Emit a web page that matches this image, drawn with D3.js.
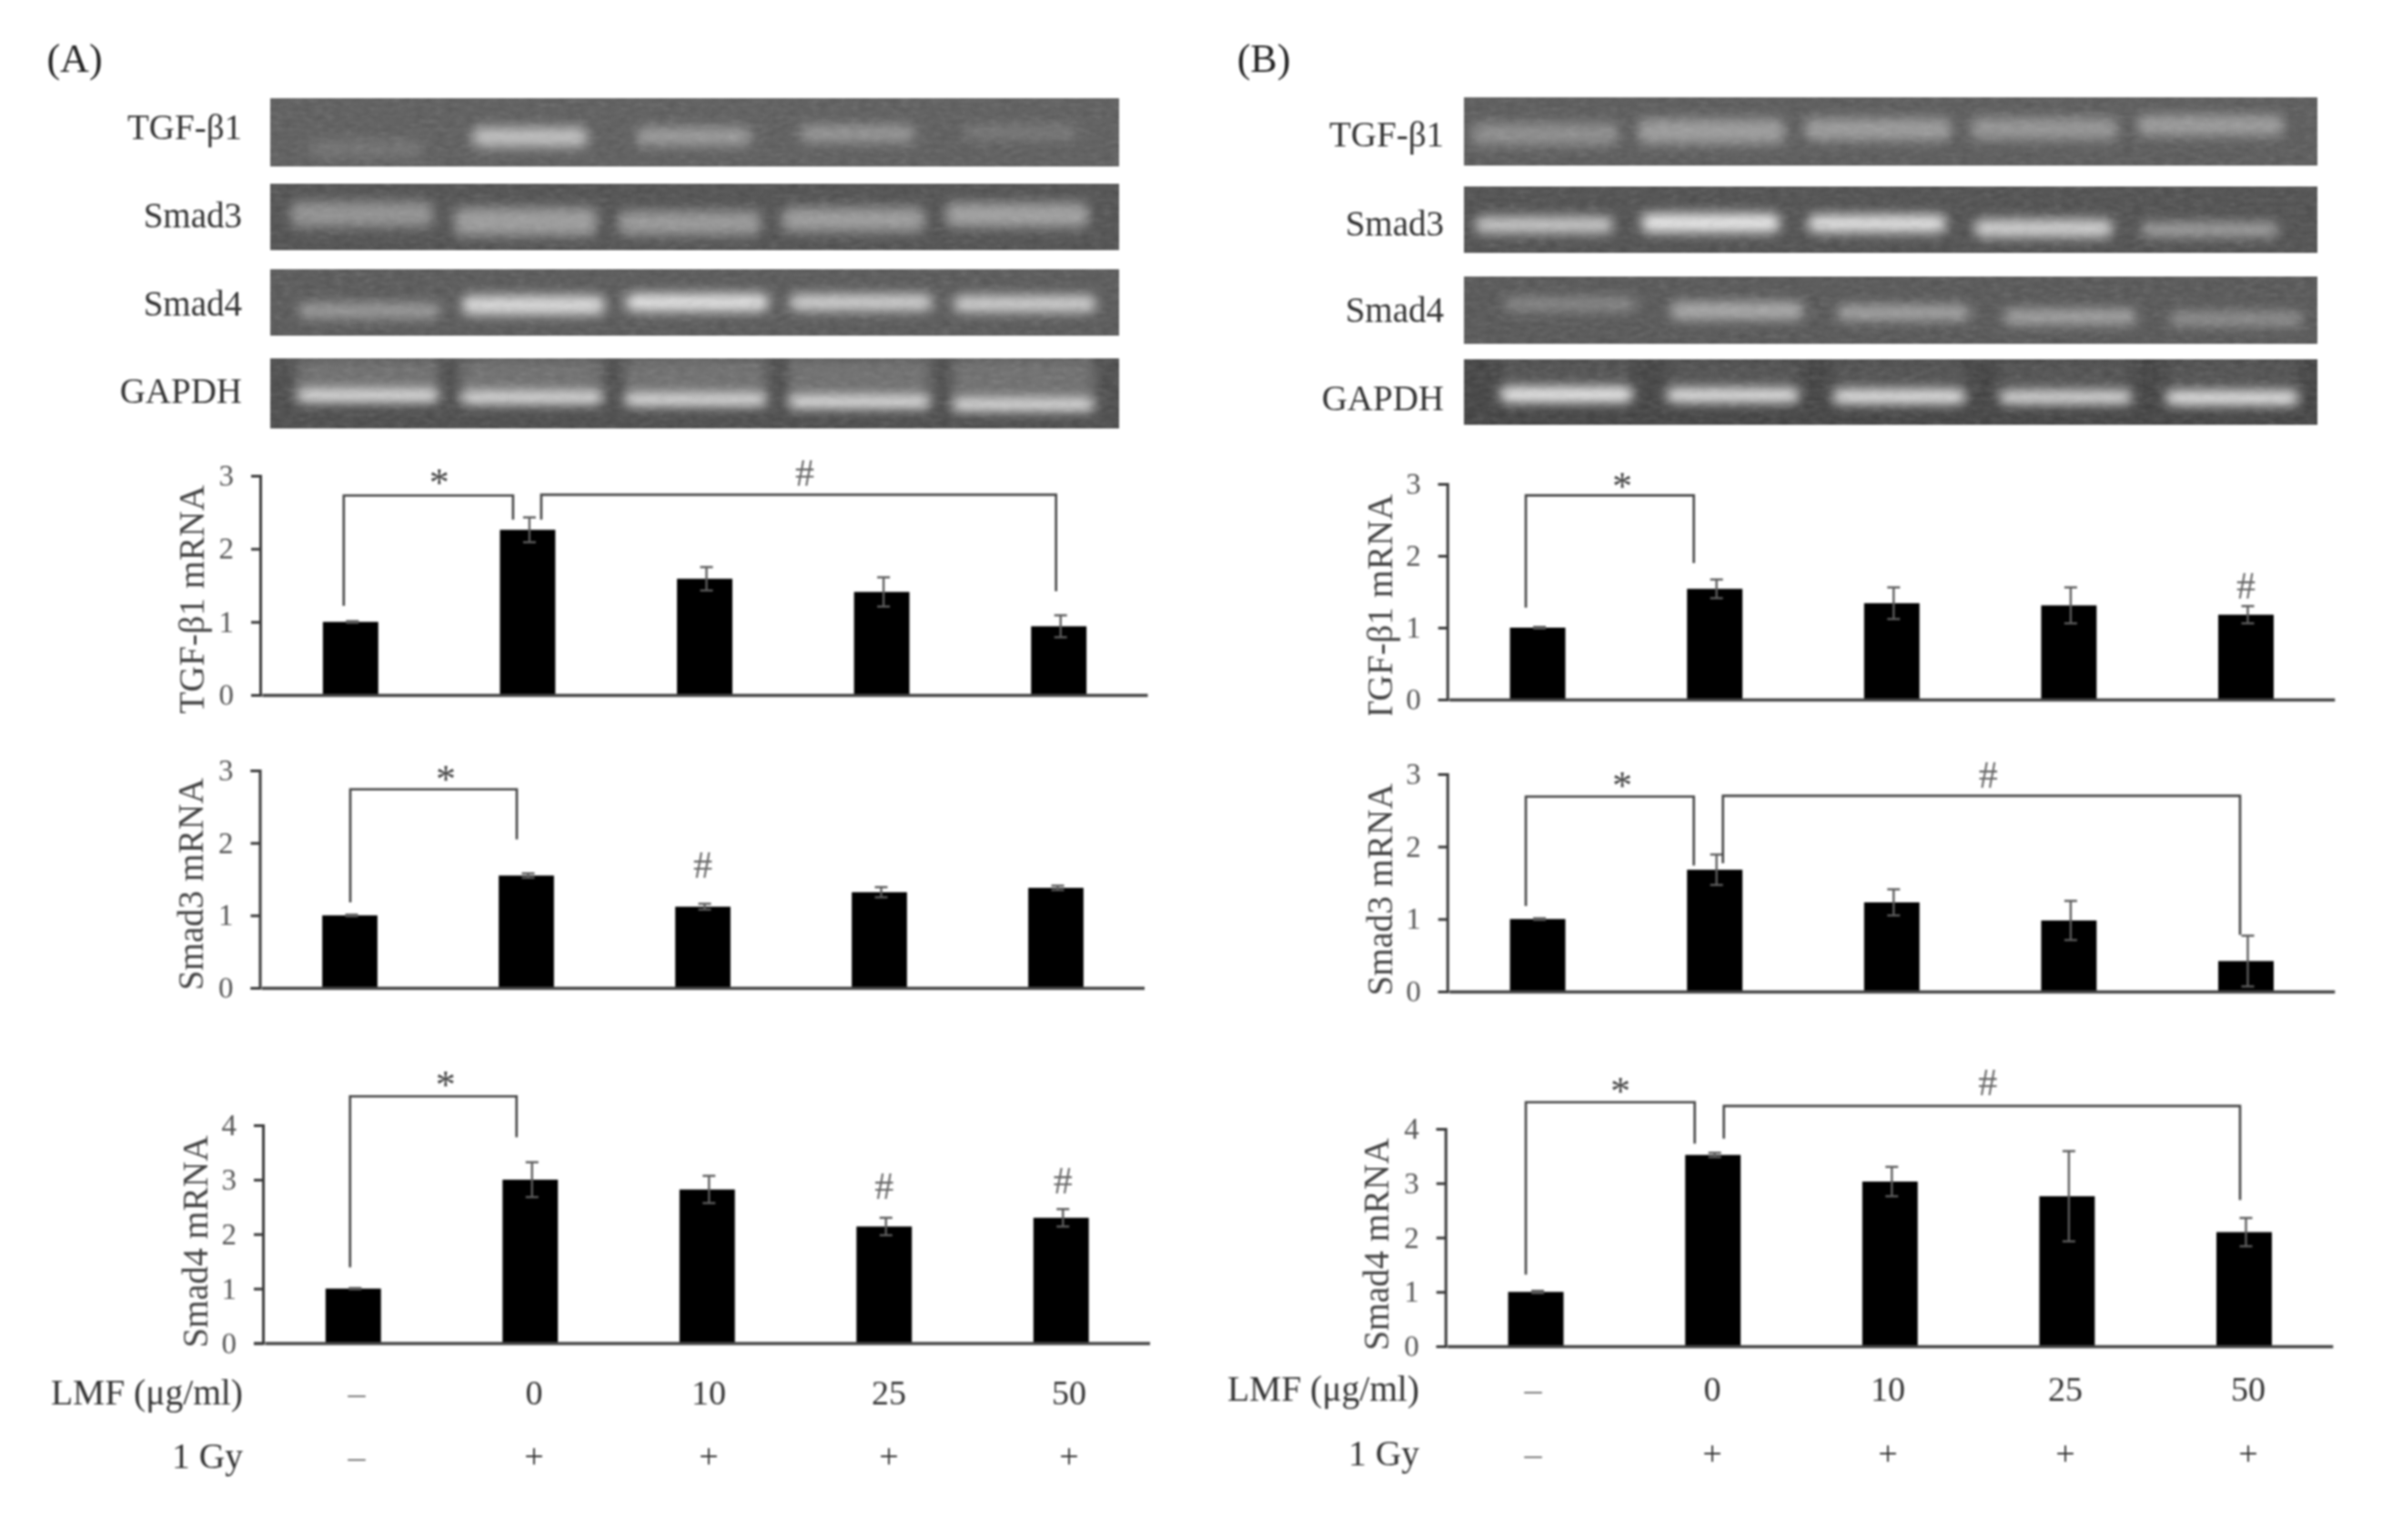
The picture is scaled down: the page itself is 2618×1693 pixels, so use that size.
<!DOCTYPE html>
<html>
<head>
<meta charset="utf-8">
<script src="https://cdn.jsdelivr.net/npm/d3@7/dist/d3.min.js"></script>
<style>
  html, body { margin: 0; padding: 0; background: #fff; }
  svg { display: block; filter: blur(0.8px); }
  text { font-family: "Liberation Serif", serif; }
</style>
</head>
<body>
<div id="chart"></div>
<script>
// categories and row labels
const groups = ['control', '0', '10', '25', '50'];
const lmfLabels = ['–', '0', '10', '25', '50'];
const gyLabels = ['–', '+', '+', '+', '+'];
const genes = ['TGF-β1', 'Smad3', 'Smad4', 'GAPDH'];

// bar values
const aTgfValues = [1.0, 2.26, 1.59, 1.41, 0.94];
const aTgfErrors = [0.01, 0.17, 0.16, 0.2, 0.15];
const aSmad3Values = [1.0, 1.55, 1.12, 1.32, 1.38];
const aSmad3Errors = [0.01, 0.03, 0.04, 0.07, 0.03];
const aSmad4Values = [1.0, 3.0, 2.82, 2.14, 2.3];
const aSmad4Errors = [0.01, 0.32, 0.25, 0.16, 0.16];
const bTgfValues = [1.0, 1.54, 1.34, 1.31, 1.18];
const bTgfErrors = [0.01, 0.13, 0.22, 0.25, 0.12];
const bSmad3Values = [1.0, 1.68, 1.23, 0.98, 0.42];
const bSmad3Errors = [0.01, 0.21, 0.18, 0.27, 0.35];
const bSmad4Values = [1.0, 3.52, 3.03, 2.76, 2.1];
const bSmad4Errors = [0.02, 0.04, 0.27, 0.83, 0.26];

// gel band brightness, migration (fraction down the gel), thickness (fraction of gel)
const aGelBright = [
  [112, 195, 155, 150, 118],
  [145, 155, 152, 155, 160],
  [155, 225, 235, 215, 215],
  [255, 250, 250, 250, 250]
];
const aGelMigration = [
  [0.74, 0.57, 0.56, 0.52, 0.5],
  [0.46, 0.57, 0.59, 0.54, 0.47],
  [0.625, 0.54, 0.5, 0.5, 0.52],
  [0.53, 0.56, 0.59, 0.62, 0.66]
];
const aGelThick = [
  [0.26, 0.28, 0.26, 0.24, 0.2],
  [0.38, 0.42, 0.36, 0.36, 0.36],
  [0.22, 0.28, 0.26, 0.24, 0.24],
  [0.16, 0.16, 0.16, 0.16, 0.16]
];
const bGelBright = [
  [140, 155, 155, 148, 155],
  [205, 240, 235, 215, 165],
  [135, 172, 166, 166, 145],
  [255, 250, 250, 245, 250]
];
const bGelMigration = [
  [0.54, 0.5, 0.47, 0.46, 0.41],
  [0.58, 0.55, 0.56, 0.63, 0.65],
  [0.41, 0.51, 0.54, 0.6, 0.63],
  [0.54, 0.55, 0.57, 0.58, 0.59]
];
const bGelThick = [
  [0.32, 0.36, 0.32, 0.32, 0.3],
  [0.24, 0.28, 0.26, 0.26, 0.2],
  [0.2, 0.26, 0.22, 0.22, 0.2],
  [0.22, 0.2, 0.2, 0.18, 0.2]
];

const width = 2618;
const height = 1693;

const svg = d3.select('#chart').append('svg')
  .attr('width', width)
  .attr('height', height)
  .attr('viewBox', `0 0 ${width} ${height}`);

const defs = svg.append('defs');
defs.append('filter').attr('id', 'bandBlur')
  .attr('x', '-20%').attr('y', '-200%').attr('width', '140%').attr('height', '500%')
  .append('feGaussianBlur').attr('stdDeviation', 6.5);

const grain = defs.append('filter').attr('id', 'grain')
  .attr('x', 0).attr('y', 0).attr('width', '100%').attr('height', '100%');
grain.append('feTurbulence').attr('type', 'fractalNoise')
  .attr('baseFrequency', '0.09 0.22').attr('numOctaves', 3).attr('seed', 7);
grain.append('feColorMatrix').attr('type', 'saturate').attr('values', 0);

defs.append('clipPath').attr('id', 'clipTitleB')
  .append('rect').attr('x', 1480).attr('y', 500).attr('width', 80).attr('height', 286);

// gels
function drawGels(cfg, bright, migration, thick) {
  const x0 = cfg.left;
  const w = cfg.right - cfg.left;
  cfg.rows.forEach((row, r) => {
    const g = svg.append('g');
    const clipId = `gel-${cfg.id}-${r}`;
    defs.append('clipPath').attr('id', clipId)
      .append('rect').attr('x', x0).attr('y', row.top)
      .attr('width', w).attr('height', row.bottom - row.top);
    const body = g.append('g').attr('clip-path', `url(#${clipId})`);

    const lane = d3.scaleBand()
      .domain(groups)
      .range([x0 + (row.c0 - cfg.step / 2) * w, x0 + (row.c0 - cfg.step / 2 + cfg.step * 5) * w])
      .paddingInner(row.gap)
      .paddingOuter(row.gap / 2);
    const yGel = d3.scaleLinear().domain([0, 1]).range([row.top, row.bottom]);

    body.append('rect')
      .attr('x', x0).attr('y', row.top)
      .attr('width', w).attr('height', row.bottom - row.top)
      .attr('fill', row.bg);

    // smear above the bands on the GAPDH gels
    if (row.smear) {
      body.selectAll('rect.smear').data(groups).join('rect')
        .attr('class', 'smear')
        .attr('x', d => lane(d))
        .attr('y', row.top)
        .attr('width', lane.bandwidth())
        .attr('height', (d, i) => yGel(migration[r][i]) - row.top)
        .attr('fill', row.smear)
        .attr('filter', 'url(#bandBlur)');
    }

    body.selectAll('rect.band').data(groups).join('rect')
      .attr('class', 'band')
      .attr('x', d => lane(d))
      .attr('y', (d, i) => yGel(migration[r][i] - thick[r][i] / 2))
      .attr('width', lane.bandwidth())
      .attr('height', (d, i) => yGel(thick[r][i]) - row.top)
      .attr('rx', 8)
      .attr('fill', (d, i) => d3.rgb(bright[r][i], bright[r][i], bright[r][i]))
      .attr('filter', 'url(#bandBlur)');

    body.append('rect')
      .attr('x', x0).attr('y', row.top)
      .attr('width', w).attr('height', row.bottom - row.top)
      .attr('filter', 'url(#grain)')
      .attr('opacity', 0.2);

    svg.append('text')
      .attr('x', cfg.labelX)
      .attr('y', row.labelY)
      .attr('text-anchor', 'end')
      .attr('dominant-baseline', 'central')
      .attr('font-size', 39)
      .attr('fill', '#333')
      .text(genes[r]);
  });
}

drawGels({
  id: 'a', left: 297, right: 1230, step: 0.193, labelX: 266,
  rows: [
    { top: 108, bottom: 183, c0: 0.113, gap: 0.3, bg: '#5a5a5a', labelY: 139 },
    { top: 202, bottom: 275, c0: 0.108, gap: 0.13, bg: '#4d4d4d', labelY: 236 },
    { top: 296, bottom: 369, c0: 0.117, gap: 0.13, bg: '#555555', labelY: 333 },
    { top: 394, bottom: 471, c0: 0.115, gap: 0.13, bg: '#484848', smear: '#6c6c6c', labelY: 429 }
  ]
}, aGelBright, aGelMigration, aGelThick);

drawGels({
  id: 'b', left: 1609, right: 2547, step: 0.195, labelX: 1587,
  rows: [
    { top: 107, bottom: 182, c0: 0.095, gap: 0.12, bg: '#575757', labelY: 147 },
    { top: 205, bottom: 278, c0: 0.094, gap: 0.17, bg: '#4c4c4c', labelY: 245 },
    { top: 304, bottom: 378, c0: 0.125, gap: 0.2, bg: '#535353', labelY: 340 },
    { top: 395, bottom: 467, c0: 0.12, gap: 0.2, bg: '#3e3e3e', smear: '#4e4e4e', labelY: 437 }
  ]
}, bGelBright, bGelMigration, bGelThick);

// bar charts
function drawBars(cfg) {
  const x = d3.scaleBand()
    .domain(groups)
    .range([cfg.x0, cfg.x1])
    .paddingInner(0.687)
    .paddingOuter(0.3435);
  const y = d3.scaleLinear().domain([0, cfg.max]).range([cfg.zero, cfg.top]);
  const g = svg.append('g');
  const mid = i => x(groups[i]) + x.bandwidth() / 2;

  g.selectAll('rect.bar').data(cfg.values).join('rect')
    .attr('class', 'bar')
    .attr('x', (d, i) => x(groups[i]))
    .attr('y', d => y(d))
    .attr('width', x.bandwidth())
    .attr('height', d => y(0) - y(d))
    .attr('fill', '#000');

  // error bars
  const err = g.append('g').attr('stroke', '#5c5c5c').attr('stroke-width', 2.4).attr('fill', 'none');
  cfg.values.forEach((v, i) => {
    const e = cfg.errors[i];
    const cx = mid(i) + 2;
    err.append('line').attr('x1', cx).attr('x2', cx).attr('y1', y(v - e)).attr('y2', y(v + e));
    err.append('line').attr('x1', cx - 7).attr('x2', cx + 7).attr('y1', y(v + e)).attr('y2', y(v + e));
    err.append('line').attr('x1', cx - 7).attr('x2', cx + 7).attr('y1', y(v - e)).attr('y2', y(v - e));
  });

  // axes
  const yAxis = g.append('g')
    .attr('transform', `translate(${cfg.x0 - 2},0)`)
    .call(d3.axisLeft(y).tickValues(d3.range(0, cfg.max + 1)).tickFormat(d3.format('d')).tickSize(10).tickSizeOuter(10).tickPadding(19));
  yAxis.select('.domain').attr('stroke', '#3a3a3a').attr('stroke-width', 3);
  yAxis.selectAll('.tick line').attr('stroke', '#3a3a3a').attr('stroke-width', 3);
  yAxis.selectAll('.tick text')
    .attr('font-family', '"Liberation Serif", serif')
    .attr('font-size', 33)
    .attr('fill', '#555');

  const xAxis = g.append('g')
    .attr('transform', `translate(0,${cfg.zero})`)
    .call(d3.axisBottom(x).tickSize(0).tickFormat(''));
  xAxis.select('.domain').attr('stroke', '#444').attr('stroke-width', 3.4);

  // y title
  const title = g.append('text')
    .attr('transform', `translate(${cfg.titleX},${cfg.titleY}) rotate(-90)`)
    .attr('text-anchor', 'middle')
    .attr('dominant-baseline', 'central')
    .attr('font-size', 39.5)
    .attr('fill', '#444')
    .text(cfg.title);
  if (cfg.clipTitle) {
    g.append('g').attr('clip-path', `url(#${cfg.clipTitle})`).node().appendChild(title.node());
  }

  // significance brackets
  cfg.brackets.forEach(b => {
    const path = d3.path();
    path.moveTo(mid(b.from) + b.dxFrom, y(b.lowFrom));
    path.lineTo(mid(b.from) + b.dxFrom, y(b.level));
    path.lineTo(mid(b.to) + b.dxTo, y(b.level));
    path.lineTo(mid(b.to) + b.dxTo, y(b.lowTo));
    g.append('path')
      .attr('d', path.toString())
      .attr('fill', 'none')
      .attr('stroke', '#444')
      .attr('stroke-width', 2.6);
  });

  cfg.marks.forEach(m => {
    const star = m.glyph === '*';
    const size = star ? 44 : 42;
    g.append('text')
      .attr('x', mid(m.at) + m.dx)
      .attr('y', y(m.level) + size * (star ? 0.47 : 0.33))
      .attr('text-anchor', 'middle')
      .attr('font-size', size)
      .attr('fill', star ? '#444' : '#666')
      .text(m.glyph);
  });
}

drawBars({
  x0: 288, x1: 1261, zero: 764, top: 523, max: 3, title: 'TGF-β1 mRNA', titleX: 211, titleY: 659,
  values: aTgfValues, errors: aTgfErrors,
  brackets: [
    { from: 0, dxFrom: -7.5, lowFrom: 1.22, level: 2.73, to: 1, dxTo: -16, lowTo: 2.4 },
    { from: 1, dxFrom: 15, lowFrom: 2.4, level: 2.74, to: 4, dxTo: -3, lowTo: 1.42 }
  ],
  marks: [{ glyph: '*', at: 0, dx: 97.5, level: 2.98 }, { glyph: '#', at: 2, dx: 110, level: 3.04 }]
});
drawBars({
  x0: 287.5, x1: 1257.5, zero: 1086, top: 847, max: 3, title: 'Smad3 mRNA', titleX: 210, titleY: 972,
  values: aSmad3Values, errors: aSmad3Errors,
  brackets: [{ from: 0, dxFrom: 0.5, lowFrom: 1.18, level: 2.74, to: 1, dxTo: -10.5, lowTo: 2.05 }],
  marks: [{ glyph: '*', at: 0, dx: 105.5, level: 2.96 }, { glyph: '#', at: 2, dx: 0, level: 1.69 }]
});
drawBars({
  x0: 291, x1: 1263.5, zero: 1476.5, top: 1237, max: 4, title: 'Smad4 mRNA', titleX: 215, titleY: 1365,
  values: aSmad4Values, errors: aSmad4Errors,
  brackets: [{ from: 0, dxFrom: -3.5, lowFrom: 1.39, level: 4.53, to: 1, dxTo: -15, lowTo: 3.78 }],
  marks: [
    { glyph: '*', at: 0, dx: 101.5, level: 4.85 },
    { glyph: '#', at: 3, dx: 0, level: 2.88 },
    { glyph: '#', at: 4, dx: 2, level: 2.98 }
  ]
});
drawBars({
  x0: 1592.7, x1: 2565.8, zero: 769, top: 532, max: 3, title: 'TGF-β1 mRNA', titleX: 1517, titleY: 669, clipTitle: 'clipTitleB',
  values: bTgfValues, errors: bTgfErrors,
  brackets: [{ from: 0, dxFrom: -13, lowFrom: 1.28, level: 2.84, to: 1, dxTo: -23, lowTo: 1.9 }],
  marks: [{ glyph: '*', at: 0, dx: 93, level: 3.05 }, { glyph: '#', at: 4, dx: 0, level: 1.58 }]
});
drawBars({
  x0: 1592.7, x1: 2565.8, zero: 1090, top: 851, max: 3, title: 'Smad3 mRNA', titleX: 1517, titleY: 978,
  values: bSmad3Values, errors: bSmad3Errors,
  brackets: [
    { from: 0, dxFrom: -13, lowFrom: 1.18, level: 2.69, to: 1, dxTo: -23, lowTo: 1.74 },
    { from: 1, dxFrom: 9, lowFrom: 1.77, level: 2.7, to: 4, dxTo: -6.5, lowTo: 0.78 }
  ],
  marks: [{ glyph: '*', at: 0, dx: 93, level: 2.92 }, { glyph: '#', at: 2, dx: 106, level: 2.99 }]
});
drawBars({
  x0: 1590.7, x1: 2563.8, zero: 1480, top: 1241, max: 4, title: 'Smad4 mRNA', titleX: 1513, titleY: 1368,
  values: bSmad4Values, errors: bSmad4Errors,
  brackets: [
    { from: 0, dxFrom: -11, lowFrom: 1.32, level: 4.49, to: 1, dxTo: -20, lowTo: 3.73 },
    { from: 1, dxFrom: 12, lowFrom: 3.82, level: 4.42, to: 4, dxTo: -4.5, lowTo: 2.69 }
  ],
  marks: [{ glyph: '*', at: 0, dx: 93, level: 4.8 }, { glyph: '#', at: 2, dx: 107.5, level: 4.85 }]
});

// treatment rows under the charts
function drawRows(cfg) {
  const x = d3.scaleOrdinal().domain(groups).range(cfg.columns);
  const rows = [
    { name: 'LMF (μg/ml)', labels: lmfLabels, y: cfg.yLmf },
    { name: '1 Gy', labels: gyLabels, y: cfg.yGy }
  ];
  rows.forEach(r => {
    svg.append('text')
      .attr('x', cfg.labelX).attr('y', r.y)
      .attr('text-anchor', 'end')
      .attr('dominant-baseline', 'central')
      .attr('font-size', 39.5)
      .attr('fill', '#333')
      .text(r.name);
    svg.append('g').selectAll('text').data(r.labels).join('text')
      .attr('x', (d, i) => x(groups[i]))
      .attr('y', r.y)
      .attr('text-anchor', 'middle')
      .attr('dominant-baseline', 'central')
      .attr('font-size', 38)
      .attr('fill', d => (d === '–' ? '#777' : '#333'))
      .text(d => d);
  });
}
drawRows({ columns: [392, 587, 779, 977, 1175], labelX: 267, yLmf: 1531, yGy: 1601 });
drawRows({ columns: [1685, 1882, 2075, 2270, 2471], labelX: 1560, yLmf: 1527, yGy: 1598 });

// panel letters
svg.append('g').selectAll('text').data([['(A)', 82], ['(B)', 1389]]).join('text')
  .attr('x', d => d[1])
  .attr('y', 64)
  .attr('text-anchor', 'middle')
  .attr('dominant-baseline', 'central')
  .attr('font-size', 44)
  .attr('fill', '#222')
  .text(d => d[0]);
</script>
</body>
</html>
